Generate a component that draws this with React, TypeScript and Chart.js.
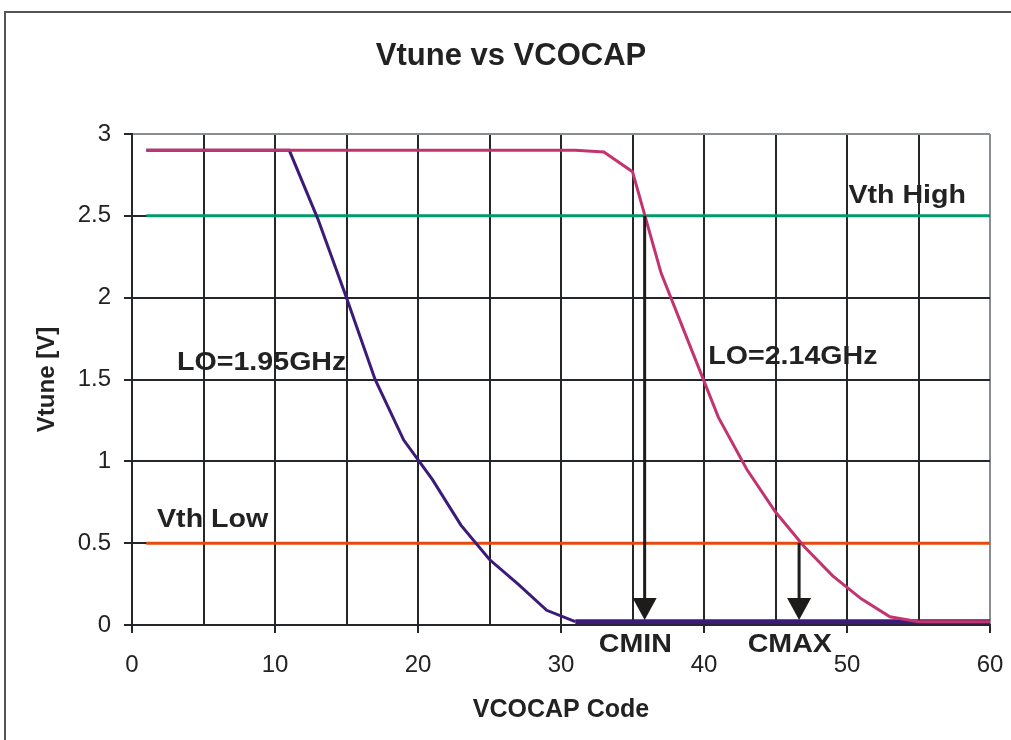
import React, { useEffect, useRef } from "react";
import { Chart, registerables } from "chart.js";

Chart.register(...registerables);

// VCOCAP codes sampled on the curves
const xCodes = [1, 3, 5, 7, 9, 11, 13, 15, 17, 19, 21, 23, 25, 27, 29, 31, 33, 35, 37, 39, 41, 43, 45, 47, 49, 51, 53, 55, 57, 59, 60];
// Vtune for LO = 1.95 GHz
const lo195 = [2.9, 2.9, 2.9, 2.9, 2.9, 2.9, 2.48, 2.0, 1.5, 1.13, 0.89, 0.61, 0.4, 0.25, 0.09, 0.02, 0.02, 0.02, 0.02, 0.02, 0.02, 0.02, 0.02, 0.02, 0.02, 0.02, 0.02, 0.02, 0.02, 0.02, 0.02];
// Vtune for LO = 2.14 GHz
const lo214 = [2.9, 2.9, 2.9, 2.9, 2.9, 2.9, 2.9, 2.9, 2.9, 2.9, 2.9, 2.9, 2.9, 2.9, 2.9, 2.9, 2.89, 2.77, 2.15, 1.71, 1.27, 0.95, 0.69, 0.48, 0.3, 0.16, 0.05, 0.02, 0.02, 0.02, 0.02];
// Threshold lines
const thresholdCodes = [1, 60];
const vthHigh = [2.5, 2.5];
const vthLow = [0.5, 0.5];
// Arrows (code, start level, end level)
const arrowCodes = [35.85, 46.65];
const arrowStart = [2.5, 0.5];
const arrowEnd = [0.03, 0.03];
// Axis ticks
const yTickValues = [0, 0.5, 1, 1.5, 2, 2.5, 3];
const yTickLabels = ["0", "0.5", "1", "1.5", "2", "2.5", "3"];
const xTickLabels = ["0", "10", "20", "30", "40", "50", "60"];

const TITLE = "Vtune vs VCOCAP";
const TEXT = "#222222";
const FONT = "'Liberation Sans', Arial, sans-serif";

const toPts = (xs: number[], ys: number[]) => xs.map((x, i) => ({ x, y: ys[i] }));

const annotPlugin = {
  id: "annot",
  beforeDraw(chart: any) {
    const { ctx, width, height } = chart;
    ctx.save();
    ctx.fillStyle = "#ffffff";
    ctx.fillRect(0, 0, width, height);
    ctx.strokeStyle = "#555555";
    ctx.lineWidth = 2;
    ctx.beginPath();
    ctx.moveTo(5, height);
    ctx.lineTo(5, 12);
    ctx.lineTo(width, 12);
    ctx.stroke();
    ctx.restore();
  },
  afterDraw(chart: any) {
    const { ctx } = chart;
    const xs = chart.scales.x;
    const ys = chart.scales.y;
    ctx.save();
    // title
    ctx.fillStyle = TEXT;
    ctx.font = `bold 31px ${FONT}`;
    ctx.textAlign = "center";
    ctx.textBaseline = "middle";
    ctx.fillText(TITLE, 511, 56);
    // arrows
    ctx.strokeStyle = "#1e1c1a";
    ctx.fillStyle = "#1e1c1a";
    arrowCodes.forEach((c, i) => {
      const px = xs.getPixelForValue(c);
      const y0 = ys.getPixelForValue(arrowStart[i]);
      const y1 = ys.getPixelForValue(arrowEnd[i]);
      ctx.lineWidth = 3;
      ctx.beginPath();
      ctx.moveTo(px, y0);
      ctx.lineTo(px, y1 - 20);
      ctx.stroke();
      ctx.beginPath();
      ctx.moveTo(px - 12, y1 - 22);
      ctx.lineTo(px + 12, y1 - 22);
      ctx.lineTo(px, y1);
      ctx.closePath();
      ctx.fill();
    });
    // labels
    ctx.fillStyle = TEXT;
    ctx.font = `bold 26px ${FONT}`;
    const label = (text: string, cx: number, cy: number, align: CanvasTextAlign) => {
      ctx.save();
      ctx.translate(xs.getPixelForValue(cx), ys.getPixelForValue(cy));
      ctx.scale(1.1, 1);
      ctx.textAlign = align;
      ctx.textBaseline = "middle";
      ctx.fillText(text, 0, 0);
      ctx.restore();
    };
    label("Vth High", 50.1, 2.62, "left");
    label("LO=2.14GHz", 40.3, 1.64, "left");
    label("LO=1.95GHz", 3.15, 1.6, "left");
    label("Vth Low", 1.75, 0.64, "left");
    label("CMIN", 35.2, -0.12, "center");
    label("CMAX", 46.0, -0.12, "center");
    ctx.restore();
  },
};

export default function App() {
  const ref = useRef<HTMLCanvasElement | null>(null);
  useEffect(() => {
    if (!ref.current) return;
    const chart = new Chart(ref.current, {
      type: "line",
      data: {
        datasets: [
          {
            label: "LO=2.14GHz",
            data: toPts(xCodes, lo214),
            borderColor: "#c2346f",
            borderWidth: 3,
            pointRadius: 0,
            fill: false,
          },
          {
            label: "LO=1.95GHz",
            data: toPts(xCodes, lo195),
            borderColor: "#3c1a78",
            borderWidth: 3,
            pointRadius: 0,
            fill: false,
            segment: {
              borderWidth: (c: any) => (c.p0.parsed.y < 0.05 && c.p1.parsed.y < 0.05 ? 5 : 3),
            },
          },
          {
            label: "Vth High",
            data: toPts(thresholdCodes, vthHigh),
            borderColor: "#009a6b",
            borderWidth: 3,
            pointRadius: 0,
          },
          {
            label: "Vth Low",
            data: toPts(thresholdCodes, vthLow),
            borderColor: "#e64a0c",
            borderWidth: 3,
            pointRadius: 0,
          },
        ],
      },
      options: {
        animation: false,
        responsive: false,
        layout: { padding: { left: 0, right: 21, top: 134, bottom: 0 } },
        plugins: {
          legend: { display: false },
          tooltip: { enabled: false },
          title: { display: false },
        },
        scales: {
          x: {
            type: "linear",
            min: 0,
            max: 60,
            afterFit: (s: any) => {
              s.height = 115;
              s.paddingLeft = 0;
              s.paddingRight = 0;
            },
            ticks: {
              stepSize: 5,
              autoSkip: false,
              maxRotation: 0,
              padding: 18,
              color: TEXT,
              font: { family: FONT, size: 24 },
              callback: (v: any) => (Number(v) % 10 === 0 ? xTickLabels[Number(v) / 10] : ""),
            },
            grid: {
              color: (c: any) => (c.tick && c.tick.value === 60 ? "#8a8d92" : "#23272a"),
              lineWidth: 2,
              tickLength: 8,
              tickColor: (c: any) => (c.tick && c.tick.value % 10 === 0 ? "#23272a" : "rgba(0,0,0,0)"),
            },
            border: { color: "#23272a", width: 2 },
            title: {
              display: true,
              text: "VCOCAP Code",
              color: TEXT,
              font: { family: FONT, size: 25, weight: "bold", lineHeight: 1.2 },
              padding: { top: 0, bottom: 15 },
            },
          },
          y: {
            type: "linear",
            min: 0,
            max: 3,
            afterFit: (s: any) => {
              s.width = 132;
            },
            afterBuildTicks: (s: any) => {
              s.ticks = yTickValues.map((v) => ({ value: v }));
            },
            ticks: {
              padding: 13,
              color: TEXT,
              font: { family: FONT, size: 24 },
              callback: (v: any) => {
                const i = yTickValues.indexOf(Number(v));
                return i >= 0 ? yTickLabels[i] : "";
              },
            },
            grid: {
              color: (c: any) => (c.tick && c.tick.value === 3 ? "#8a8d92" : "#23272a"),
              lineWidth: 2,
              tickLength: 8,
              tickColor: "#23272a",
            },
            border: { color: "#23272a", width: 2 },
            title: {
              display: true,
              text: "Vtune [V]",
              color: TEXT,
              font: { family: FONT, size: 24, weight: "bold", lineHeight: 1.2 },
              padding: { top: 33, bottom: 0 },
            },
          },
        },
      },
      plugins: [annotPlugin],
    } as any);
    return () => chart.destroy();
  }, []);
  return (
    <div style={{ position: "fixed", left: 0, top: 0, width: 1011, height: 740, background: "#fff" }}>
      <canvas ref={ref} width={1011} height={740} style={{ width: 1011, height: 740, display: "block" }} />
    </div>
  );
}
